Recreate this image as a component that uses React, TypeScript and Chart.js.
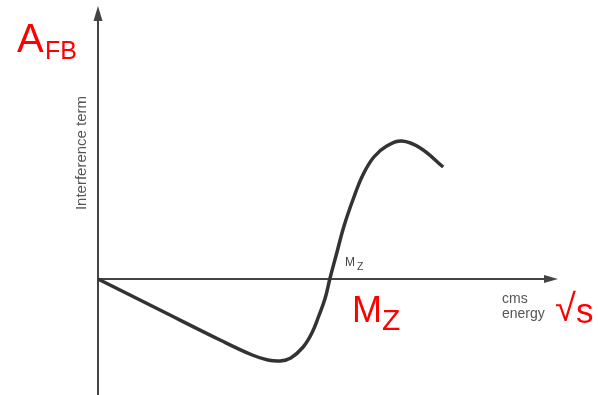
import { useEffect, useRef } from "react";
import { Chart, registerables } from "chart.js";

Chart.register(...registerables);

// centre-of-mass energy (arbitrary units, axis runs 0..100)
const energy = [0, 13.5, 26.6, 33.6, 37.0, 39.7, 42.0, 44.7, 46.6, 48.1, 49.5, 50.5, 51.9, 53.6, 55.6, 57.7, 60.1, 62.9, 66.2, 70.2, 75.2];
// interference term (arbitrary units)
const interference = [0, -7.75, -15.25, -19, -20.25, -20.5, -19.75, -17, -13.5, -9.25, -4.75, 0, 6, 13.25, 20, 26, 30.5, 33.25, 34.5, 32.75, 28];

const X_MIN = 0;
const X_MAX = 100;
const Y_MIN = -29;
const Y_MAX = 68.5;

const FONT = '"Liberation Sans", Arial, Helvetica, sans-serif';

const axesPlugin = {
  id: "axesAndLabels",
  beforeDatasetsDraw(chart: any) {
    const { ctx, scales } = chart;
    const xs = scales.x;
    const ys = scales.y;
    const x0 = xs.getPixelForValue(0);
    const y0 = ys.getPixelForValue(0);
    const xEnd = xs.getPixelForValue(X_MAX);
    const yTop = ys.getPixelForValue(Y_MAX);
    const yBottom = ys.getPixelForValue(Y_MIN);
    ctx.save();
    ctx.strokeStyle = "#444";
    ctx.fillStyle = "#444";
    ctx.lineWidth = 2;
    // y axis
    ctx.beginPath();
    ctx.moveTo(x0, yBottom);
    ctx.lineTo(x0, yTop + 12);
    ctx.stroke();
    ctx.beginPath();
    ctx.moveTo(x0, yTop + 1);
    ctx.lineTo(x0 - 4.5, yTop + 16);
    ctx.lineTo(x0 + 4.5, yTop + 16);
    ctx.closePath();
    ctx.fill();
    // x axis
    ctx.beginPath();
    ctx.moveTo(x0, y0);
    ctx.lineTo(xEnd - 10, y0);
    ctx.stroke();
    ctx.beginPath();
    ctx.moveTo(xEnd + 1, y0);
    ctx.lineTo(xEnd - 13, y0 - 4);
    ctx.lineTo(xEnd - 13, y0 + 4);
    ctx.closePath();
    ctx.fill();
    ctx.restore();
  },
  afterDraw(chart: any) {
    const { ctx } = chart;
    ctx.save();
    ctx.textBaseline = "alphabetic";
    ctx.textAlign = "left";
    // axis title
    ctx.fillStyle = "#555";
    ctx.save();
    ctx.translate(86, 153);
    ctx.rotate(-Math.PI / 2);
    ctx.textAlign = "center";
    ctx.font = `15px ${FONT}`;
    ctx.fillText("Interference term", 0, 0);
    ctx.restore();
    // small M_Z
    ctx.fillStyle = "#444";
    ctx.font = `12px ${FONT}`;
    ctx.fillText("M", 345, 266);
    ctx.font = `10.5px ${FONT}`;
    ctx.fillText("Z", 357, 270);
    // cms energy
    ctx.fillStyle = "#555";
    ctx.font = `14px ${FONT}`;
    ctx.fillText("cms", 502, 303);
    ctx.fillText("energy", 502, 318);
    // red labels
    ctx.fillStyle = "#ff0000";
    ctx.font = `40px ${FONT}`;
    ctx.fillText("A", 17, 52);
    ctx.font = `25px ${FONT}`;
    ctx.fillText("FB", 45, 59);
    ctx.font = `36px ${FONT}`;
    ctx.fillText("M", 352, 322);
    ctx.font = `30px ${FONT}`;
    ctx.fillText("Z", 382, 330);
    ctx.font = `38px ${FONT}`;
    ctx.fillText("\u221A", 555, 321);
    ctx.font = `35px ${FONT}`;
    ctx.fillText("s", 576, 323);
    ctx.restore();
  },
};

export default function App() {
  const canvasRef = useRef<HTMLCanvasElement | null>(null);

  useEffect(() => {
    const canvas = canvasRef.current;
    if (!canvas) return;
    const chart = new Chart(canvas, {
      type: "line",
      data: {
        datasets: [
          {
            data: energy.map((e, i) => ({ x: e, y: interference[i] })),
            borderColor: "#333",
            borderWidth: 3.5,
            pointRadius: 0,
            tension: 0.4,
            fill: false,
            clip: false as any,
          },
        ],
      },
      options: {
        animation: false,
        responsive: false,
        devicePixelRatio: 1,
        layout: { padding: { left: 98, right: 41, top: 5, bottom: 0 } },
        plugins: { legend: { display: false }, tooltip: { enabled: false } },
        scales: {
          x: { type: "linear", min: X_MIN, max: X_MAX, display: false },
          y: { type: "linear", min: Y_MIN, max: Y_MAX, display: false },
        },
      },
      plugins: [axesPlugin],
    });
    return () => chart.destroy();
  }, []);

  return (
    <div style={{ position: "fixed", left: 0, top: 0, width: 598, height: 395, background: "#fff" }}>
      <canvas ref={canvasRef} width={598} height={395} style={{ display: "block" }} />
    </div>
  );
}
